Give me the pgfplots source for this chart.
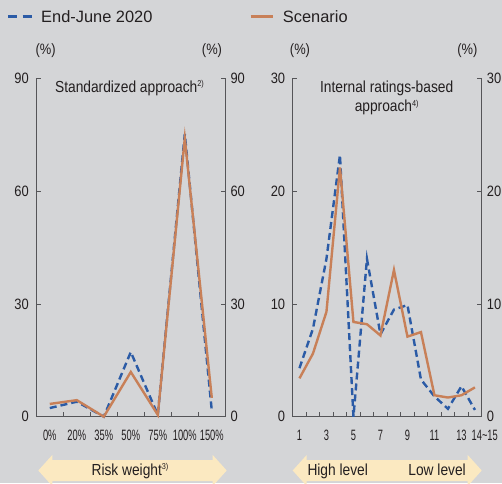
\documentclass[border=0pt]{standalone}
\usepackage{pgfplots}
\pgfplotsset{compat=1.18}
\usepackage{fontspec}
\setmainfont{Liberation Sans}
\newfontfamily\condA{Liberation Sans}[FakeStretch=0.62]
\newfontfamily\condB{Liberation Sans}[FakeStretch=0.86]
\definecolor{bg}{RGB}{212,213,215}
\definecolor{axisc}{RGB}{85,85,88}
\definecolor{txt}{RGB}{35,31,32}
\definecolor{blueC}{RGB}{43,91,166}
\definecolor{orangeC}{RGB}{200,128,88}
\definecolor{arrowC}{RGB}{251,233,193}
\newcommand{\sups}[1]{\raisebox{5.5pt}{\fontsize{8.5}{8.5}\selectfont #1}}
\pgfplotsset{
  panel/.style={
    scale only axis, width=189pt, height=338.4pt, anchor=south west,
    clip=false, ymin=0,
    axis line style={-, draw=axisc, line width=0.9pt},
    x axis line style={-}, y axis line style={-},
    tick align=inside, major tick length=4.5pt,
    tick style={draw=axisc, line width=0.8pt},
    xticklabel style={font=\condA\fontsize{15}{15}\selectfont, text=txt, yshift=-10pt},
    yticklabel style={font=\condB\fontsize{15}{15}\selectfont, text=txt},
    /pgf/number format/assume math mode=true,
  },
  blueline/.style={draw=blueC, line width=2.4pt, dash pattern=on 7pt off 4pt},
  orangeline/.style={draw=orangeC, line width=2.4pt},
}
\begin{document}
\begin{tikzpicture}
\path[use as bounding box] (0pt,0pt) rectangle (502pt,483pt);
\clip (0pt,0pt) rectangle (502pt,483pt);
\fill[bg] (0pt,0pt) rectangle (502pt,483pt);
% legend
\draw[blueC, line width=3pt, dash pattern=on 9pt off 5.4pt] (8.3pt,466.3pt) -- (31.7pt,466.3pt);
\node[anchor=base west, inner sep=0, font=\fontsize{16.4}{18}\selectfont, text=txt] at (41pt,460.7pt) {End-June 2020};
\draw[orangeC, line width=3pt] (250.7pt,466.3pt) -- (273.3pt,466.3pt);
\node[anchor=base west, inner sep=0, font=\fontsize{16.4}{18}\selectfont, text=txt] at (282.7pt,460.7pt) {Scenario};
% (%) labels
\foreach \xx in {45.7,212,300,467.3}
  \node[inner sep=0, font=\condB\fontsize{15}{15}\selectfont, text=txt] at (\xx pt,432.3pt) {(\%)};
% left panel
\begin{axis}[panel, at={(36.3pt,66.3pt)}, xmin=-0.5, xmax=6.5, ymax=90,
  ytick={0,30,60,90}, axis x line*=bottom, axis y line*=left,
  xtick={0.5,1.5,...,5.5}, xticklabels={},
  extra x ticks={0,1,2,3,4,5,6},
  extra x tick labels={0\%,20\%,35\%,50\%,75\%,100\%,150\%},
  extra x tick style={major tick length=0pt},
  yticklabel style={xshift=-4pt}]
\addplot[blueline] coordinates {(0,2.3) (1,4.0) (2,0) (3,17.2) (4,0.5) (5,75.2) (6,1.6)};
\addplot[orangeline] coordinates {(0,3.4) (1,4.4) (2,0) (3,11.9) (4,0.5) (5,74.0) (6,5.0)};
\end{axis}
\begin{axis}[panel, at={(36.3pt,66.3pt)}, xmin=-0.5, xmax=6.5, ymax=90,
  ytick={0,30,60,90}, axis x line=none, axis y line*=right,
  yticklabel style={xshift=1.7pt}]
\end{axis}
% right panel
\begin{axis}[panel, at={(292.7pt,66.3pt)}, xmin=0.5, xmax=14.5, ymax=30,
  ytick={0,10,20,30}, axis x line*=bottom, axis y line*=left,
  xtick={1.5,2.5,...,13.5}, xticklabels={},
  extra x ticks={1,2,3,4,5,6,7,8,9,10,11,12,13,14},
  extra x tick labels={1,,3,,5,,7,,9,,11,,13,\makebox[0pt][l]{\hspace{-3.3pt}14\textasciitilde 15}},
  extra x tick style={major tick length=0pt},
  yticklabel style={xshift=-4pt}]
\addplot[blueline] coordinates {(1,4.3) (2,7.8) (3,14.0) (4,23.2) (5,0) (6,14.0) (7,7.3) (8,9.5) (9,9.9) (10,3.3) (11,1.8) (12,0.7) (13,2.7) (14,0.6)};
\addplot[orangeline] coordinates {(1,3.4) (2,5.6) (3,9.3) (4,22.1) (5,8.4) (6,8.2) (7,7.2) (8,13.0) (9,7.1) (10,7.5) (11,1.9) (12,1.7) (13,1.9) (14,2.6)};
\end{axis}
\begin{axis}[panel, at={(292.7pt,66.3pt)}, xmin=0.5, xmax=14.5, ymax=30,
  ytick={0,10,20,30}, axis x line=none, axis y line*=right,
  yticklabel style={xshift=1.7pt}]
\end{axis}
% titles
\node[anchor=base, inner sep=0, font=\condB\fontsize{16}{16}\selectfont, text=txt] at (129.5pt,390.7pt) {Standardized approach\sups{2)}};
\node[anchor=base, inner sep=0, font=\condB\fontsize{16}{16}\selectfont, text=txt] at (386.7pt,391pt) {Internal ratings-based};
\node[anchor=base, inner sep=0, font=\condB\fontsize{16}{16}\selectfont, text=txt] at (386.7pt,371.5pt) {approach\sups{4)}};
% arrows
\fill[arrowC] (38.3pt,12.5pt) -- (52.3pt,28pt) -- (52.3pt,23pt) -- (212.7pt,23pt) -- (212.7pt,28pt) -- (226.7pt,12.5pt) -- (212.7pt,-3pt) -- (212.7pt,2pt) -- (52.3pt,2pt) -- (52.3pt,-3pt) -- cycle;
\fill[arrowC] (292.7pt,12.5pt) -- (306.7pt,28pt) -- (306.7pt,23pt) -- (467.7pt,23pt) -- (467.7pt,28pt) -- (481.7pt,12.5pt) -- (467.7pt,-3pt) -- (467.7pt,2pt) -- (306.7pt,2pt) -- (306.7pt,-3pt) -- cycle;
\node[anchor=base, inner sep=0, font=\condB\fontsize{16}{16}\selectfont, text=txt] at (130pt,8pt) {Risk weight\sups{3)}};
\node[anchor=base west, inner sep=0, font=\condB\fontsize{16}{16}\selectfont, text=txt] at (307.3pt,8pt) {High level};
\node[anchor=base east, inner sep=0, font=\condB\fontsize{16}{16}\selectfont, text=txt] at (466pt,8pt) {Low level};
\end{tikzpicture}
\end{document}
